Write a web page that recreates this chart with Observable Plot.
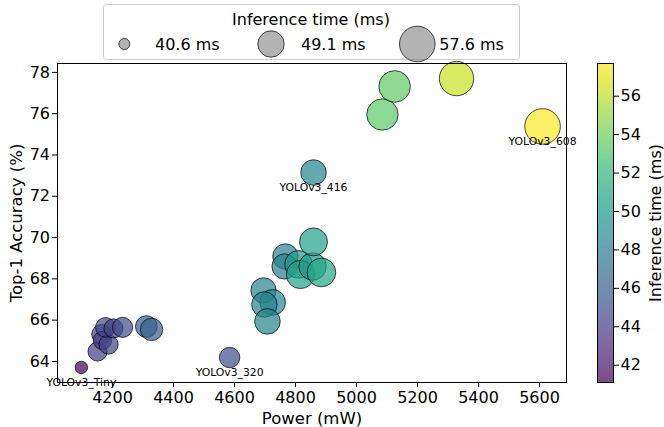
<!DOCTYPE html>
<html><head><meta charset="utf-8">
<script src="https://cdn.jsdelivr.net/npm/d3@7"></script>
<script src="https://cdn.jsdelivr.net/npm/@observablehq/plot@0.6"></script>
<style>
html,body{margin:0;padding:0;background:#fff;}
#wrap{position:relative;width:664px;height:427px;font-family:"DejaVu Sans",sans-serif;overflow:hidden;}
#wrap svg{position:absolute;top:0;overflow:visible;}
</style></head><body><div id="wrap"></div>
<script>
// ---- data ----
const power = [4098, 4151, 4164, 4167, 4187, 4177, 4203, 4233, 4311, 4328, 4584, 4695, 4725, 4698, 4708, 4767, 4764, 4810, 4816, 4856, 4885, 4859, 4859, 5085, 5125, 5328, 5610];
const accuracy = [63.71, 64.48, 65.31, 65.02, 64.82, 65.65, 65.60, 65.65, 65.69, 65.55, 64.19, 67.44, 66.86, 66.76, 65.94, 69.08, 68.60, 68.70, 68.21, 68.60, 68.31, 69.79, 73.15, 75.96, 77.32, 77.70, 75.38];
const inferenceTime = [41.1, 44.2, 44.5, 43.8, 44.3, 44.6, 44.2, 44.8, 45.8, 46.2, 45.0, 48.3, 48.6, 48.4, 48.5, 48.4, 48.2, 50.2, 50.6, 50.0, 51.0, 50.4, 48.5, 53.4, 53.6, 56.3, 57.6];
const modelNames = ["YOLOv3_Tiny", "", "", "", "", "", "", "", "", "", "YOLOv3_320", "", "", "", "", "", "", "", "", "", "", "", "YOLOv3_416", "", "", "", "YOLOv3_608"];
const legendTimes = [40.6, 49.1, 57.6];
const legendLabels = ["40.6 ms", "49.1 ms", "57.6 ms"];
const legendTitle = "Inference time (ms)";
const xTicks = [4200, 4400, 4600, 4800, 5000, 5200, 5400, 5600];
const yTicks = [64, 66, 68, 70, 72, 74, 76, 78];
const cbTicks = [42, 44, 46, 48, 50, 52, 54, 56];
const colorDomain = [41.1, 57.7];

// ---- scales ----
const sizeOffset = 38.8;
const rOptions = {type: "sqrt", domain: [0, 57.6 - sizeOffset], range: [0, 17.8]};
const colorOptions = {type: "linear", scheme: "viridis", domain: colorDomain};
const rScale = Plot.scale({r: rOptions});
const plain = d => String(d);

const data = power.map((p, i) => ({power: p, accuracy: accuracy[i], time: inferenceTime[i], name: modelNames[i]}));
const font = {fontFamily: "DejaVu Sans", fontSize: "16px", background: "transparent", color: "black", overflow: "visible"};

const main = Plot.plot({
  width: 664, height: 427,
  marginLeft: 57, marginRight: 98, marginTop: 63, marginBottom: 45,
  style: font,
  x: {domain: [4019.7, 5688.5]},
  y: {domain: [62.98, 78.43]},
  r: rOptions,
  color: colorOptions,
  marks: [
    Plot.axisX(xTicks, {tickSize: 5, tickPadding: 4.5, label: null, fontSize: 16, stroke: "black", tickFormat: plain}),
    Plot.axisY(yTicks, {tickSize: 5, tickPadding: 2.5, label: null, fontSize: 16, stroke: "black", tickFormat: plain}),
    Plot.dot(data, {x: "power", y: "accuracy", r: d => d.time - sizeOffset, fill: "time",
      fillOpacity: 0.7, stroke: "black", strokeOpacity: 0.7, strokeWidth: 1, sort: null}),
    Plot.text(data.filter(d => d.name), {x: "power", y: "accuracy", text: "name",
      lineAnchor: "top", textAnchor: "middle", dy: 10.5, fontSize: 10.8, fill: "black"}),
    Plot.frame({stroke: "black", strokeWidth: 1}),
    Plot.text(["Power (mW)"], {frameAnchor: "bottom", textAnchor: "middle", lineAnchor: "middle", dy: 36, fontSize: 16.5}),
    Plot.text(["Top-1 Accuracy (%)"], {frameAnchor: "left", textAnchor: "middle", lineAnchor: "middle", rotate: -90, dx: -41, fontSize: 16.5})
  ]
});
main.style.left = "0px";
document.getElementById("wrap").appendChild(main);

const cb = Plot.plot({
  width: 67, height: 427,
  marginLeft: 0, marginRight: 51, marginTop: 63, marginBottom: 45,
  style: font,
  x: {domain: [0, 1], axis: null},
  y: {domain: colorDomain},
  color: colorOptions,
  marks: [
    Plot.raster({fill: (x, y) => y, x1: 0, x2: 1, y1: colorDomain[0], y2: colorDomain[1], width: 1, height: 256, opacity: 0.7, imageRendering: "auto"}),
    Plot.frame({stroke: "black", strokeWidth: 1}),
    Plot.axisY(cbTicks, {anchor: "right", tickSize: 5, tickPadding: 2, label: null, fontSize: 16, stroke: "black", tickFormat: plain}),
    Plot.text([legendTitle], {frameAnchor: "right", textAnchor: "middle", lineAnchor: "middle", rotate: -90, dx: 42, fontSize: 16})
  ]
});
cb.style.left = "597px";
document.getElementById("wrap").appendChild(cb);

// ---- size legend ----
const lg = d3.create("svg").attr("width", 664).attr("height", 70)
  .style("left", "0px").style("top", "0px")
  .style("font-family", "DejaVu Sans");
lg.append("rect").attr("x", 103.5).attr("y", 4.5).attr("width", 416).attr("height", 55).attr("rx", 3)
  .attr("fill", "white").attr("fill-opacity", 0.8).attr("stroke", "#cccccc");
lg.append("text").attr("x", 311).attr("y", 19).attr("text-anchor", "middle").attr("dominant-baseline", "central")
  .attr("font-size", 16).text(legendTitle);
const itemX = [124.3, 271, 417.3];
const labelX = [155, 301, 439.3];
legendTimes.forEach((t, i) => {
  lg.append("circle").attr("cx", itemX[i]).attr("cy", 44).attr("r", rScale.apply(t - sizeOffset))
    .attr("fill", "gray").attr("fill-opacity", 0.6).attr("stroke", "black").attr("stroke-opacity", 0.7);
  lg.append("text").attr("x", labelX[i]).attr("y", 44).attr("dominant-baseline", "central")
    .attr("font-size", 16).text(legendLabels[i]);
});
document.getElementById("wrap").appendChild(lg.node());
</script></body></html>
